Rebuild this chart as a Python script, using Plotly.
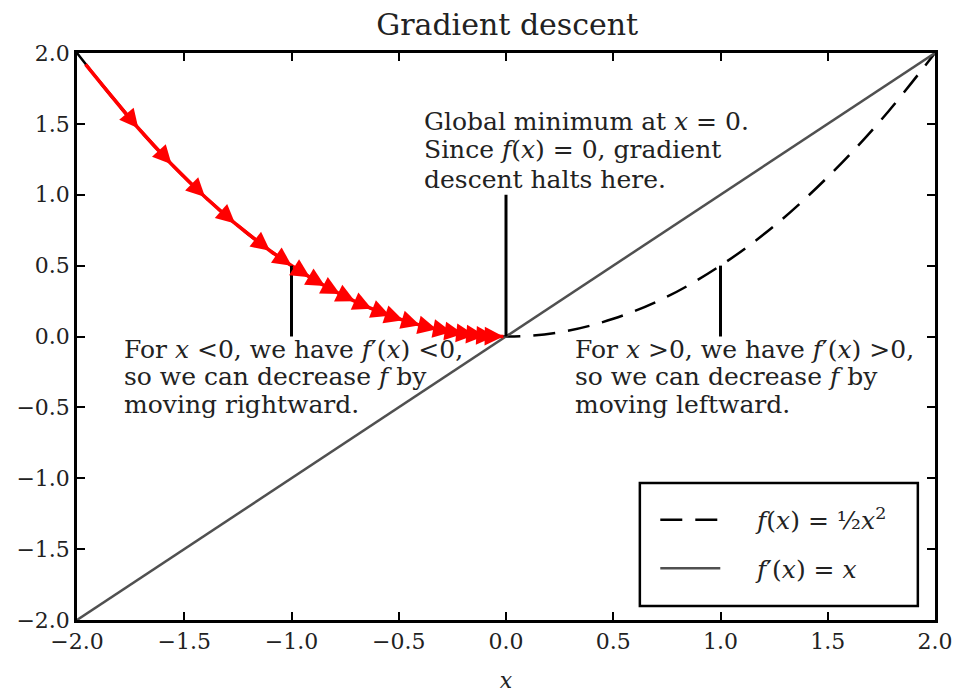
import plotly.graph_objects as go

# ---- data ----
curve_x = [-2.0, -1.75, -1.5, -1.25, -1.0, -0.75, -0.5, -0.25, 0.0,
           0.25, 0.5, 0.75, 1.0, 1.25, 1.5, 1.75, 2.0]
curve_y = [2.0, 1.53, 1.125, 0.78, 0.5, 0.28, 0.125, 0.03, 0.0,
           0.03, 0.125, 0.28, 0.5, 0.78, 1.125, 1.53, 2.0]
deriv_x = [-2.0, 2.0]
deriv_y = [-2.0, 2.0]

gd_x = [-1.96, -1.714, -1.559, -1.403, -1.263, -1.100, -0.999, -0.914, -0.844,
        -0.774, -0.704, -0.626, -0.541, -0.479, -0.401, -0.323, -0.253,
        -0.199, -0.145, -0.098, -0.051, -0.012]
gd_y = [1.92, 1.469, 1.215, 0.984, 0.798, 0.605, 0.499, 0.418, 0.356,
        0.300, 0.248, 0.196, 0.146, 0.115, 0.080, 0.052, 0.032,
        0.020, 0.011, 0.005, 0.001, 0.0]

# pointer lines: (x, y_bottom, y_top)
pointer_x = [0.0, -1.0, 1.0]
pointer_y0 = [0.0, 0.0, 0.0]
pointer_y1 = [1.0, 0.5, 0.5]

note_global = ["Global minimum at <i>x</i> = 0.",
               "Since <i>f</i>(<i>x</i>) = 0, gradient",
               "descent halts here."]
note_left = ["For <i>x</i> &lt;0, we have <i>f</i>′(<i>x</i>) &lt;0,",
             "so we can decrease <i>f</i> by",
             "moving rightward."]
note_right = ["For <i>x</i> &gt;0, we have <i>f</i>′(<i>x</i>) &gt;0,",
              "so we can decrease <i>f</i> by",
              "moving leftward."]
note_global_pos = (-0.39, [1.515, 1.318, 1.106])
note_left_pos = (-1.79, [-0.095, -0.285, -0.48])
note_right_pos = (0.31, [-0.095, -0.285, -0.48])

tick_vals = [-2.0, -1.5, -1.0, -0.5, 0.0, 0.5, 1.0, 1.5, 2.0]

legend_names = ["&nbsp;&nbsp;&nbsp;&nbsp;<i>f</i>(<i>x</i>) = ½<i>x</i><sup>2</sup>",
                "&nbsp;&nbsp;&nbsp;&nbsp;<i>f</i>′(<i>x</i>) = <i>x</i>"]

FONT = "DejaVu Serif"
TXT = "#222"

fig = go.Figure()

fig.add_trace(go.Scatter(
    x=curve_x, y=curve_y, mode="lines", line_shape="spline",
    line=dict(color="black", width=2.5, dash="22px,13px"),
    name=legend_names[0], legendgroup="a"))
fig.add_trace(go.Scatter(
    x=deriv_x, y=deriv_y, mode="lines",
    line=dict(color="#505050", width=2.5),
    name=legend_names[1], legendgroup="b"))

# red gradient descent path
fig.add_trace(go.Scatter(
    x=gd_x, y=gd_y, mode="lines", line_shape="spline",
    line=dict(color="red", width=3.5), showlegend=False, hoverinfo="skip"))

for i in range(1, len(gd_x)):
    fig.add_annotation(x=gd_x[i], y=gd_y[i], ax=gd_x[i - 1], ay=gd_y[i - 1],
                       xref="x", yref="y", axref="x", ayref="y", text="",
                       showarrow=True, arrowhead=2, arrowsize=1.25,
                       arrowwidth=3, arrowcolor="red", standoff=0)

for px, py0, py1 in zip(pointer_x, pointer_y0, pointer_y1):
    fig.add_trace(go.Scatter(x=[px, px], y=[py0, py1], mode="lines",
                             line=dict(color="black", width=3),
                             showlegend=False, hoverinfo="skip"))

for lines, (nx, nys) in [(note_global, note_global_pos),
                          (note_left, note_left_pos),
                          (note_right, note_right_pos)]:
    for txt, ny in zip(lines, nys):
        fig.add_annotation(x=nx, y=ny, xref="x", yref="y", text=txt,
                           showarrow=False, xanchor="left", yanchor="middle",
                           font=dict(family=FONT, size=25, color=TXT))

# legend frame
fig.add_shape(type="rect", xref="paper", yref="paper",
              x0=0.656, x1=0.980, y0=0.0247, y1=0.2416,
              line=dict(color="black", width=2.5), fillcolor="white",
              layer="above")

axis_common = dict(range=[-2, 2], tickvals=tick_vals, tickformat=".1f",
                   showline=True, linecolor="black", linewidth=2.5,
                   mirror="allticks", ticks="inside", ticklen=8,
                   tickwidth=1.5, tickcolor="black", showgrid=False,
                   zeroline=False, automargin=False,
                   tickfont=dict(family=FONT, size=22, color=TXT))

fig.update_xaxes(**axis_common,
                 title=dict(text="<i>x</i>", standoff=24,
                            font=dict(family=FONT, size=22, color=TXT)))
fig.update_yaxes(**axis_common)

fig.update_layout(
    width=957, height=693,
    margin=dict(l=77, r=22, t=53, b=73, autoexpand=False),
    paper_bgcolor="white", plot_bgcolor="white",
    title=dict(text="Gradient descent", x=0.53, xanchor="center",
               y=0.964, yanchor="middle", yref="container",
               font=dict(family=FONT, size=30, color=TXT)),
    legend=dict(x=0.674, y=0.217, xanchor="left", yanchor="top",
                borderwidth=0, bgcolor="rgba(0,0,0,0)",
                font=dict(family=FONT, size=25, color=TXT),
                itemwidth=60, tracegroupgap=13, traceorder="grouped"),
)

fig.write_html("out.html")
